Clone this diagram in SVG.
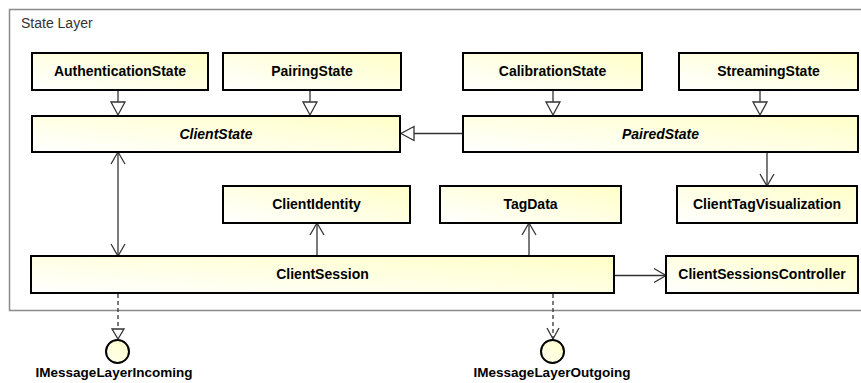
<svg xmlns="http://www.w3.org/2000/svg" width="861" height="383" viewBox="0 0 861 383">
  <defs>
    <linearGradient id="boxFill" x1="0" y1="1" x2="1" y2="0">
      <stop offset="0" stop-color="#FFFFFF"/>
      <stop offset="1" stop-color="#FFFFC8"/>
    </linearGradient>
    <linearGradient id="ifaceFill" x1="0" y1="1" x2="1" y2="0">
      <stop offset="0" stop-color="#FFFFF0"/>
      <stop offset="1" stop-color="#FFFFC8"/>
    </linearGradient>
  </defs>
  <style>
    .frame { fill: #FFFFFF; stroke: #8A8A8A; stroke-width: 1.5; }
    .frame-label { font-family: "Liberation Sans", Arial, sans-serif; font-size: 14px; fill: #333333; }
    .box { fill: url(#boxFill); stroke: #000000; stroke-width: 2; }
    .name { font-family: "Liberation Sans", Arial, sans-serif; font-size: 14px; font-weight: bold; fill: #000000; text-anchor: middle; }
    .abstract { font-style: italic; }
    .iface { fill: url(#ifaceFill); stroke: #000000; stroke-width: 2; }
    .iface-label { font-family: "Liberation Sans", Arial, sans-serif; font-size: 13.5px; font-weight: bold; fill: #000000; text-anchor: middle; }
    .line { fill: none; stroke: #333333; stroke-width: 1.3; }
    .dash { stroke-dasharray: 4 3; }
    .hollow { fill: #FFFFFF; stroke: #333333; stroke-width: 1.3; stroke-linejoin: miter; }
  </style>

  <!-- package frame -->
  <g id="state-layer">
    <rect class="frame" x="9.5" y="9.5" width="860" height="301"/>
    <text class="frame-label" x="21" y="28">State Layer</text>
  </g>

  <!-- connectors -->
  <g id="connectors">
    <!-- generalizations -->
    <line class="line" x1="118" y1="90" x2="118" y2="102"/>
    <polygon class="hollow" points="111,102 125,102 118,115"/>
    <line class="line" x1="310" y1="90" x2="310" y2="102"/>
    <polygon class="hollow" points="303,102 317,102 310,115"/>
    <line class="line" x1="553" y1="90" x2="553" y2="102"/>
    <polygon class="hollow" points="546,102 560,102 553,115"/>
    <line class="line" x1="760" y1="90" x2="760" y2="102"/>
    <polygon class="hollow" points="753,102 767,102 760,115"/>
    <line class="line" x1="463" y1="133.5" x2="414" y2="133.5"/>
    <polygon class="hollow" points="414,126.5 414,140.5 401,133.5"/>

    <!-- ClientState <-> ClientSession -->
    <line class="line" x1="118" y1="152" x2="118" y2="256"/>
    <polyline class="line" points="111,164 118,152 125,164"/>
    <polyline class="line" points="111,244 118,256 125,244"/>

    <!-- PairedState -> ClientTagVisualization -->
    <line class="line" x1="767" y1="152" x2="767" y2="186"/>
    <polyline class="line" points="760,174 767,186 774,174"/>

    <!-- ClientSession -> ClientIdentity -->
    <line class="line" x1="317" y1="256" x2="317" y2="223"/>
    <polyline class="line" points="310,235 317,223 324,235"/>

    <!-- ClientSession -> TagData -->
    <line class="line" x1="529" y1="256" x2="529" y2="223"/>
    <polyline class="line" points="522,235 529,223 536,235"/>

    <!-- ClientSession -> ClientSessionsController -->
    <line class="line" x1="614" y1="275.5" x2="666" y2="275.5"/>
    <polyline class="line" points="654,268.5 666,275.5 654,282.5"/>

    <!-- realization to IMessageLayerIncoming -->
    <line class="line dash" x1="118" y1="294" x2="118" y2="329"/>
    <polygon class="hollow" points="112,329 124,329 118,339"/>

    <!-- dependency to IMessageLayerOutgoing -->
    <line class="line dash" x1="553" y1="294" x2="553" y2="339"/>
    <polyline class="line" points="547,328 553,339 559,328"/>
  </g>

  <g id="AuthenticationState">
    <rect class="box" x="32" y="53" width="176" height="37"/>
    <text class="name" x="120" y="76">AuthenticationState</text>
  </g>
  <g id="PairingState">
    <rect class="box" x="223" y="53" width="178" height="37"/>
    <text class="name" x="312" y="76">PairingState</text>
  </g>
  <g id="CalibrationState">
    <rect class="box" x="463" y="53" width="179" height="37"/>
    <text class="name" x="552.5" y="76">CalibrationState</text>
  </g>
  <g id="StreamingState">
    <rect class="box" x="679" y="53" width="179" height="37"/>
    <text class="name" x="768.5" y="76">StreamingState</text>
  </g>
  <g id="ClientState">
    <rect class="box" x="32" y="116" width="368" height="36"/>
    <text class="name abstract" x="216" y="138.5">ClientState</text>
  </g>
  <g id="PairedState">
    <rect class="box" x="463" y="116" width="395" height="36"/>
    <text class="name abstract" x="660.5" y="138.5">PairedState</text>
  </g>
  <g id="ClientIdentity">
    <rect class="box" x="223" y="186" width="187" height="37"/>
    <text class="name" x="316.5" y="209">ClientIdentity</text>
  </g>
  <g id="TagData">
    <rect class="box" x="440" y="186" width="181" height="37"/>
    <text class="name" x="530.5" y="209">TagData</text>
  </g>
  <g id="ClientTagVisualization">
    <rect class="box" x="677" y="186" width="180" height="37"/>
    <text class="name" x="767" y="209">ClientTagVisualization</text>
  </g>
  <g id="ClientSession">
    <rect class="box" x="31" y="256" width="583" height="37"/>
    <text class="name" x="322.5" y="279">ClientSession</text>
  </g>
  <g id="ClientSessionsController">
    <rect class="box" x="666" y="256" width="192" height="37"/>
    <text class="name" x="762" y="279">ClientSessionsController</text>
  </g>

  <g id="IMessageLayerIncoming">
    <circle class="iface" cx="117.5" cy="351.5" r="11.5"/>
    <text class="iface-label" x="114" y="377">IMessageLayerIncoming</text>
  </g>
  <g id="IMessageLayerOutgoing">
    <circle class="iface" cx="552.5" cy="351.5" r="11.5"/>
    <text class="iface-label" x="552" y="377">IMessageLayerOutgoing</text>
  </g>
</svg>
